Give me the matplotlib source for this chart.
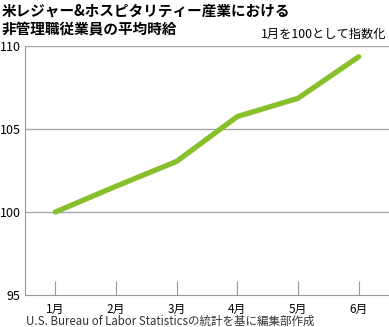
import matplotlib
matplotlib.use("Agg")
import matplotlib.pyplot as plt

plt.rcParams['font.family'] = ['Noto Sans CJK JP', 'DejaVu Sans']

months = ["1月", "2月", "3月", "4月", "5月", "6月"]
values = [100.0, 101.55, 103.05, 105.75, 106.85, 109.35]
yticks = [95, 100, 105, 110]

title_lines = ["米レジャー&ホスピタリティー産業における", "非管理職従業員の平均時給"]
note = "1月を100として指数化"
source = "U.S. Bureau of Labor Statisticsの統計を基に編集部作成"

fig = plt.figure(figsize=(3.89, 3.27), dpi=100)
ax = fig.add_axes([25/389, 1 - 295/327, 364/389, (295-46)/327])

x = list(range(len(months)))
ax.plot(x, values, color="#88c02c", lw=3.8, solid_capstyle="round", solid_joinstyle="round", zorder=3)

ax.set_xlim(-0.5, 5.5)
ax.set_ylim(95, 110)
ax.set_yticks(yticks)
ax.set_yticklabels([str(v) for v in yticks], fontsize=9)
ax.set_xticks(x)
ax.set_xticklabels(months, fontsize=8.5)
for v in [100, 105, 110]:
    ax.axhline(v, color="#a8a8a8", lw=1.0, zorder=1)

for s in ["top", "right"]:
    ax.spines[s].set_visible(False)
ax.spines["left"].set_color("#999999")
ax.spines["bottom"].set_color("#999999")
ax.tick_params(axis="y", length=0, pad=3)
ax.tick_params(axis="x", direction="in", length=10, color="#999999", pad=6)

fig.text(2/389, 1 - 15/327, title_lines[0], fontsize=10.5, fontweight="bold", va="baseline", ha="left")
fig.text(2/389, 1 - 34/327, title_lines[1], fontsize=10.5, fontweight="bold", va="baseline", ha="left")
fig.text(1 - 3/389, 1 - 38/327, note, fontsize=8.8, va="baseline", ha="right")
fig.text(25/389 + 0.003, 1 - 325/327, source, fontsize=8.3, va="baseline", ha="left", color="#333333")

fig.savefig("out.png", dpi=100)
